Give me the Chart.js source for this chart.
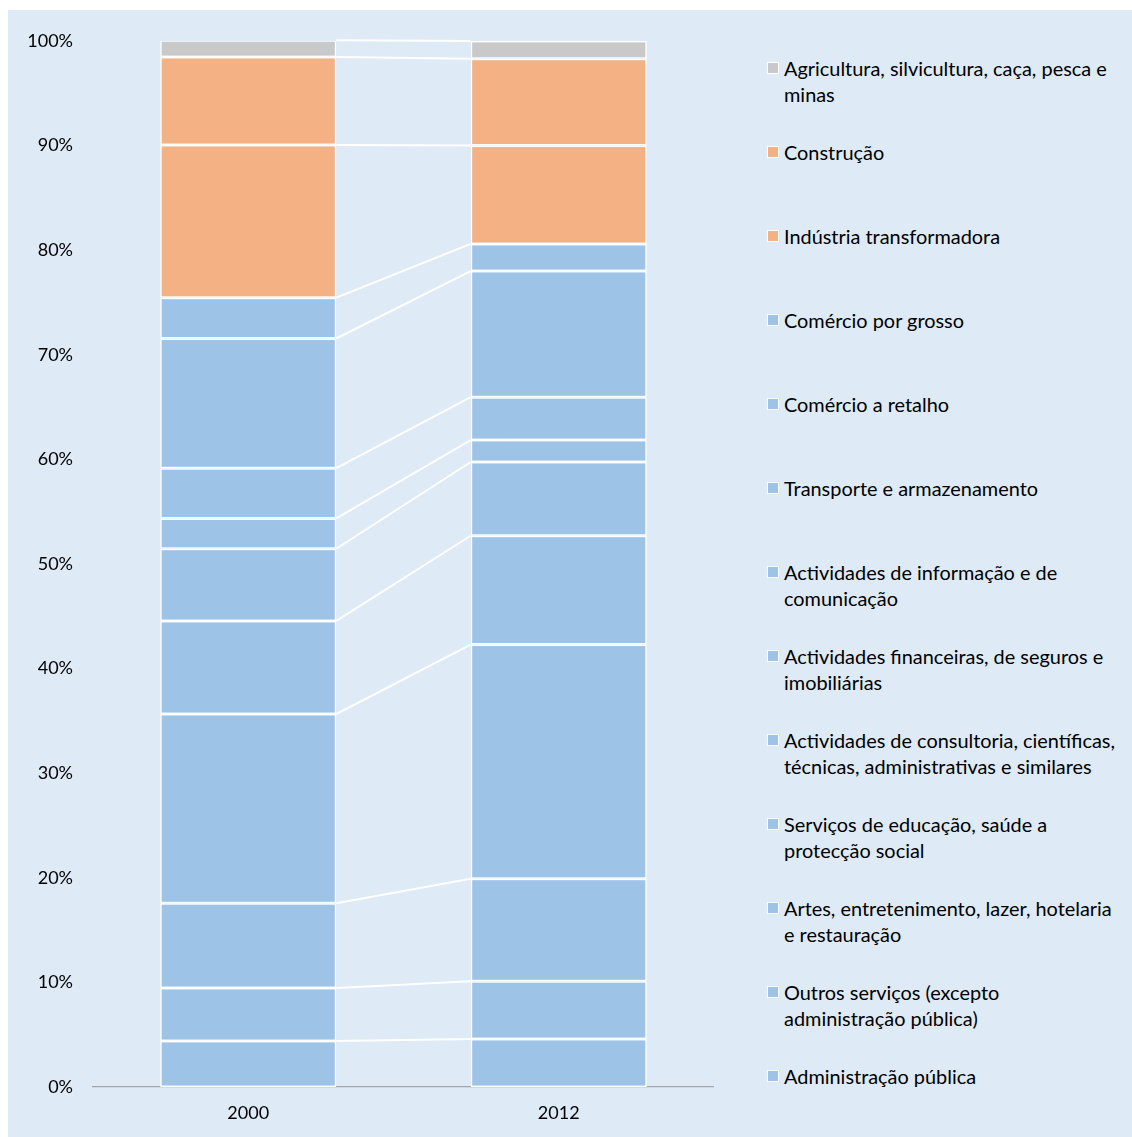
<!DOCTYPE html>
<html>
<head>
<meta charset="utf-8">
<script src="https://cdn.jsdelivr.net/npm/chart.js@4"></script>
<style>
  html, body { margin: 0; padding: 0; background: #ffffff; }
  body { width: 1132px; height: 1137px; position: relative; overflow: hidden; font-family: Lato, "Open Sans", sans-serif; }
  #bg { position: absolute; left: 8px; top: 10px; width: 1124px; height: 1127px; background: #DEEAF6; }
  #chartWrap { position: absolute; left: 8px; top: 10px; width: 706px; height: 1127px; }
  #legend { position: absolute; left: 767px; top: 0; width: 365px; }
  .item { position: absolute; left: 0; width: 365px; display: flex; align-items: flex-start; }
  .mk { width: 10px; height: 10px; border: 1px solid #ffffff; margin-top: 7px; flex: 0 0 auto; }
  .tx { margin-left: 5px; width: 350px; font-size: 19.9px; line-height: 26px; color: #000; white-space: pre-line; }
</style>
</head>
<body>
<div id="bg"></div>
<div id="chartWrap"><canvas id="c"></canvas></div>
<div id="legend"></div>
<script>
// Categories (x axis)
const categories = ["2000", "2012"];

// Series names, bottom of stack to top (line breaks as in the legend)
const seriesNames = [
  "Administração pública",
  "Outros serviços (excepto\nadministração pública)",
  "Artes, entretenimento, lazer, hotelaria\ne restauração",
  "Serviços de educação, saúde a\nprotecção social",
  "Actividades de consultoria, científicas,\ntécnicas, administrativas e similares",
  "Actividades financeiras, de seguros e\nimobiliárias",
  "Actividades de informação e de\ncomunicação",
  "Transporte e armazenamento",
  "Comércio a retalho",
  "Comércio por grosso",
  "Indústria transformadora",
  "Construção",
  "Agricultura, silvicultura, caça, pesca e\nminas"
];

// Shares (%) for 2000, same order as seriesNames
const values2000 = [4.4, 5.06, 8.1, 18.1, 8.9, 6.9, 2.9, 4.8, 12.4, 3.9, 14.6, 8.4, 1.6];
// Shares (%) for 2012
const values2012 = [4.6, 5.5, 9.8, 22.4, 10.4, 7.05, 2.1, 4.1, 12.05, 2.6, 9.4, 8.3, 1.7];

// Colour per series
const seriesColors = [
  "#9DC3E6", "#9DC3E6", "#9DC3E6", "#9DC3E6", "#9DC3E6", "#9DC3E6", "#9DC3E6",
  "#9DC3E6", "#9DC3E6", "#9DC3E6", "#F4B183", "#F4B183", "#C9C9C9"
];

// Y tick labels
const yTicks = [0, 10, 20, 30, 40, 50, 60, 70, 80, 90, 100];

const FONT = "Lato, 'Open Sans', sans-serif";

const datasets = seriesNames.map((name, i) => ({
  label: name.replace("\n", " "),
  data: [values2000[i], values2012[i]],
  backgroundColor: seriesColors[i],
  borderColor: "#ffffff",
  borderWidth: 1.5,
  borderSkipped: false,
  barPercentage: 0.567,
  categoryPercentage: 1.0
}));

const seriesLines = {
  id: "seriesLines",
  afterDatasetsDraw(chart) {
    const ctx = chart.ctx;
    ctx.save();
    ctx.strokeStyle = "#ffffff";
    ctx.lineWidth = 2;
    chart.data.datasets.forEach((ds, i) => {
      const meta = chart.getDatasetMeta(i);
      const a = meta.data[0], b = meta.data[1];
      if (!a || !b) return;
      ctx.beginPath();
      ctx.moveTo(a.x + a.width / 2, a.y);
      ctx.lineTo(b.x - b.width / 2, b.y);
      ctx.stroke();
    });
    ctx.restore();
  }
};

new Chart(document.getElementById("c"), {
  type: "bar",
  data: { labels: categories, datasets: datasets },
  options: {
    responsive: true,
    maintainAspectRatio: false,
    animation: false,
    layout: { padding: { top: 31, right: 0, bottom: 0, left: 0 } },
    plugins: { legend: { display: false }, tooltip: { enabled: false } },
    scales: {
      x: {
        stacked: true,
        grid: { display: false, drawTicks: false },
        border: { display: true, color: "#A6A6A6", width: 1.3 },
        ticks: { color: "#000", font: { family: FONT, size: 18 }, padding: 15 },
        afterFit(scale) { scale.height = 50; }
      },
      y: {
        stacked: true,
        min: 0, max: 100,
        grid: { display: false, drawTicks: false },
        border: { display: false },
        afterBuildTicks(scale) { scale.ticks = yTicks.map(v => ({ value: v })); },
        ticks: {
          color: "#000",
          font: { family: FONT, size: 18 },
          padding: 20,
          callback: v => v + "%"
        },
        afterFit(scale) { scale.width = 85; }
      }
    }
  },
  plugins: [seriesLines]
});

// HTML legend, top of stack first
const legend = document.getElementById("legend");
for (let k = 0; k < seriesNames.length; k++) {
  const i = seriesNames.length - 1 - k;
  const item = document.createElement("div");
  item.className = "item";
  item.style.top = (55 + 84 * k) + "px";
  const mk = document.createElement("div");
  mk.className = "mk";
  mk.style.background = seriesColors[i];
  const tx = document.createElement("div");
  tx.className = "tx";
  tx.textContent = seriesNames[i];
  item.appendChild(mk);
  item.appendChild(tx);
  legend.appendChild(item);
}
</script>
</body>
</html>
